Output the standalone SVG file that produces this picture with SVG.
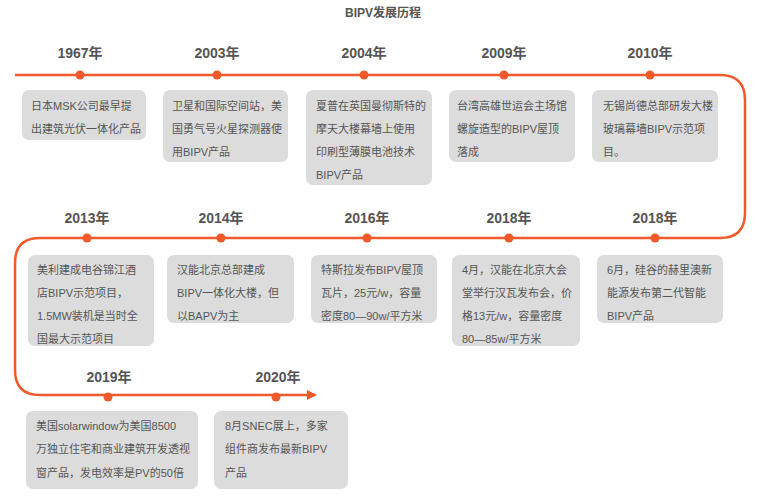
<svg xmlns="http://www.w3.org/2000/svg" width="766" height="502" viewBox="0 0 766 502">
<style>
.t{font-family:"Liberation Sans","Noto Sans CJK SC",sans-serif;font-size:11px;fill:#555}
.y{font-family:"Liberation Sans","Noto Sans CJK SC",sans-serif;font-size:14px;font-weight:bold;fill:#555;text-anchor:middle}
.b{fill:#dcdcdc}
.d{fill:#f0592a}
</style>
<defs><marker id="ar" markerWidth="10" markerHeight="10" refX="8" refY="5" orient="auto" markerUnits="userSpaceOnUse"><path d="M0,0 L10,5 L0,10 Z" fill="#f0592a"/></marker></defs>
<rect width="766" height="502" fill="#fff"/>
<text x="383" y="17" class="y" font-size="12" style="font-size:12px">BIPV发展历程</text>
<g id="connectors" fill="none" stroke="#f0592a" stroke-width="2.5">
<path d="M15,75 H720 Q745,75 745,100 V213 Q745,238 720,238 H40 Q15,238 15,263 V370 Q15,395 40,395 H315" marker-end="url(#ar)"/>
</g>
<g id="n1"><text class="y" x="80" y="58">1967年</text><circle class="d" cx="80" cy="75" r="4.5"/><rect class="b" x="22" y="90" width="124" height="50" rx="7"/><text class="t" x="31" y="110">日本MSK公司最早提</text><text class="t" x="31" y="133">出建筑光伏一体化产品</text></g>
<g id="n2"><text class="y" x="217" y="58">2003年</text><circle class="d" cx="217" cy="75" r="4.5"/><rect class="b" x="163" y="90" width="125" height="72" rx="7"/><text class="t" x="172" y="110">卫星和国际空间站，美</text><text class="t" x="172" y="133">国勇气号火星探测器使</text><text class="t" x="172" y="156">用BIPV产品</text></g>
<g id="n3"><text class="y" x="364" y="58">2004年</text><circle class="d" cx="364" cy="75" r="4.5"/><rect class="b" x="306" y="90" width="126" height="95" rx="7"/><text class="t" x="316" y="110">夏普在英国曼彻斯特的</text><text class="t" x="316" y="133">摩天大楼幕墙上使用</text><text class="t" x="316" y="156">印刷型薄膜电池技术</text><text class="t" x="316" y="179">BIPV产品</text></g>
<g id="n4"><text class="y" x="504" y="58">2009年</text><circle class="d" cx="504" cy="75" r="4.5"/><rect class="b" x="449" y="90" width="126" height="72" rx="7"/><text class="t" x="457" y="110">台湾高雄世运会主场馆</text><text class="t" x="457" y="133">螺旋造型的BIPV屋顶</text><text class="t" x="457" y="156">落成</text></g>
<g id="n5"><text class="y" x="650" y="58">2010年</text><circle class="d" cx="650" cy="75" r="4.5"/><rect class="b" x="592" y="90" width="126" height="72" rx="7"/><text class="t" x="603" y="110">无锡尚德总部研发大楼</text><text class="t" x="603" y="133">玻璃幕墙BIPV示范项</text><text class="t" x="603" y="156">目。</text></g>
<g id="n6"><text class="y" x="87" y="223">2013年</text><circle class="d" cx="87" cy="238" r="4.5"/><rect class="b" x="28" y="255" width="126" height="91" rx="7"/><text class="t" x="37" y="274">美利建成电谷锦江酒</text><text class="t" x="37" y="297">店BIPV示范项目，</text><text class="t" x="37" y="320">1.5MW装机是当时全</text><text class="t" x="37" y="343">国最大示范项目</text></g>
<g id="n7"><text class="y" x="221" y="223">2014年</text><circle class="d" cx="221" cy="238" r="4.5"/><rect class="b" x="167" y="255" width="127" height="68" rx="7"/><text class="t" x="177" y="274">汉能北京总部建成</text><text class="t" x="177" y="297">BIPV一体化大楼，但</text><text class="t" x="177" y="320">以BAPV为主</text></g>
<g id="n8"><text class="y" x="367" y="223">2016年</text><circle class="d" cx="367" cy="238" r="4.5"/><rect class="b" x="311" y="255" width="126" height="68" rx="7"/><text class="t" x="321" y="274">特斯拉发布BIPV屋顶</text><text class="t" x="321" y="297">瓦片，25元/w，容量</text><text class="t" x="321" y="320">密度80—90w/平方米</text></g>
<g id="n9"><text class="y" x="509" y="223">2018年</text><circle class="d" cx="509" cy="238" r="4.5"/><rect class="b" x="452" y="255" width="128" height="91" rx="7"/><text class="t" x="462" y="274">4月，汉能在北京大会</text><text class="t" x="462" y="297">堂举行汉瓦发布会，价</text><text class="t" x="462" y="320">格13元/w，容量密度</text><text class="t" x="462" y="343">80—85w/平方米</text></g>
<g id="n10"><text class="y" x="655" y="223">2018年</text><circle class="d" cx="655" cy="238" r="4.5"/><rect class="b" x="597" y="255" width="126" height="68" rx="7"/><text class="t" x="607" y="274">6月，硅谷的赫里澳新</text><text class="t" x="607" y="297">能源发布第二代智能</text><text class="t" x="607" y="320">BIPV产品</text></g>
<g id="n11"><text class="y" x="109" y="382">2019年</text><circle class="d" cx="108" cy="397" r="4.5"/><rect class="b" x="26" y="411" width="172" height="78" rx="7"/><text class="t" x="36" y="430">美国solarwindow为美国8500</text><text class="t" x="36" y="453">万独立住宅和商业建筑开发透视</text><text class="t" x="36" y="477">窗产品，发电效率是PV的50倍</text></g>
<g id="n12"><text class="y" x="278" y="382">2020年</text><circle class="d" cx="276" cy="397" r="4.5"/><rect class="b" x="214" y="411" width="134" height="78" rx="7"/><text class="t" x="225" y="430">8月SNEC展上，多家</text><text class="t" x="225" y="453">组件商发布最新BIPV</text><text class="t" x="225" y="477">产品</text></g>
</svg>
